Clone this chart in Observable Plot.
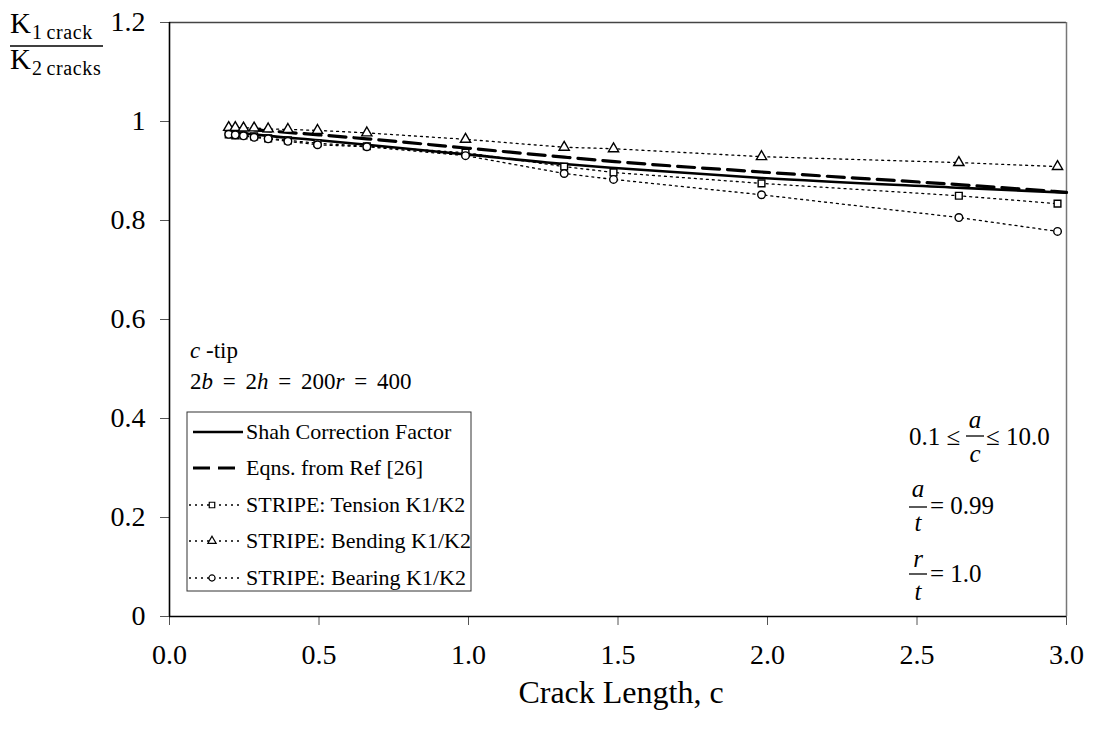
<!DOCTYPE html>
<html>
<head>
<meta charset="utf-8">
<script src="https://cdn.jsdelivr.net/npm/d3@7"></script>
<script src="https://cdn.jsdelivr.net/npm/@observablehq/plot@0.6"></script>
<style>
  html, body { margin: 0; padding: 0; background: #fff; }
  #chart svg { display: block; }
</style>
</head>
<body>
<div id="chart"></div>
<script>
// ---- data ----
const cValues      = [0.198, 0.22, 0.2475, 0.283, 0.33, 0.396, 0.495, 0.66, 0.99, 1.32, 1.485, 1.98, 2.64, 2.97];
const tensionVals  = [0.974, 0.972, 0.972, 0.970, 0.966, 0.962, 0.956, 0.950, 0.937, 0.909, 0.897, 0.875, 0.850, 0.834];
const bendingVals  = [0.988, 0.988, 0.987, 0.987, 0.985, 0.984, 0.982, 0.977, 0.964, 0.948, 0.945, 0.929, 0.917, 0.909];
const bearingVals  = [0.974, 0.973, 0.971, 0.968, 0.965, 0.960, 0.953, 0.949, 0.931, 0.895, 0.883, 0.852, 0.806, 0.778];
const shahC        = [0.2, 0.25, 0.33, 0.5, 0.66, 1.0, 1.32, 1.49, 1.98, 2.65, 3.0];
const shahVals     = [0.979, 0.976, 0.971, 0.962, 0.953, 0.933, 0.914, 0.906, 0.886, 0.866, 0.856];
const refC         = [0.2, 0.33, 0.5, 0.66, 1.0, 1.32, 1.49, 1.98, 2.65, 3.0];
const refVals      = [0.987, 0.981, 0.973, 0.965, 0.946, 0.928, 0.919, 0.898, 0.872, 0.857];
const xTicks = [0, 0.5, 1.0, 1.5, 2.0, 2.5, 3.0];
const yTicks = [0, 0.2, 0.4, 0.6, 0.8, 1.0, 1.2];
const legendLabels = ["Shah Correction Factor", "Eqns. from Ref [26]", "STRIPE: Tension K1/K2", "STRIPE: Bending K1/K2", "STRIPE: Bearing K1/K2"];

const tension = cValues.map((c, i) => ({c, v: tensionVals[i]}));
const bending = cValues.map((c, i) => ({c, v: bendingVals[i]}));
const bearing = cValues.map((c, i) => ({c, v: bearingVals[i]}));
const shah = shahC.map((c, i) => ({c, v: shahVals[i]}));
const ref = refC.map((c, i) => ({c, v: refVals[i]}));

const FONT = "'Liberation Serif', 'Times New Roman', serif";
const dotted = {stroke: "black", strokeWidth: 1.3, strokeDasharray: "2,4"};
const dotStyle = {r: 3.8, fill: "white", stroke: "black", strokeWidth: 1.4};

const chart = Plot.plot({
  width: 1095,
  height: 729,
  marginLeft: 169,
  marginRight: 29,
  marginTop: 22,
  marginBottom: 113,
  style: {fontFamily: FONT, fontSize: "28px", background: "white", color: "black"},
  x: {domain: [0, 3], label: null},
  y: {domain: [0, 1.2], label: null},
  marks: [
    Plot.ruleY([1.2], {stroke: "#444", strokeWidth: 1.5}),
    Plot.ruleX([3], {stroke: "#777", strokeWidth: 1.5}),
    Plot.axisX({ticks: xTicks, tickFormat: d3.format(".1f"), tickSize: 9, tickPadding: 19, fontSize: 28, label: null, stroke: "#555"}),
    Plot.axisY({ticks: yTicks, tickFormat: d3.format("~g"), tickSize: 9, tickPadding: 15, fontSize: 28, label: null, stroke: "#555"}),
    Plot.line(tension, {x: "c", y: "v", ...dotted}),
    Plot.line(bending, {x: "c", y: "v", ...dotted}),
    Plot.line(bearing, {x: "c", y: "v", ...dotted}),
    Plot.line(ref, {x: "c", y: "v", stroke: "black", strokeWidth: 3.2, strokeDasharray: "17,8", curve: "monotone-x"}),
    Plot.line(shah, {x: "c", y: "v", stroke: "black", strokeWidth: 2.6, curve: "monotone-x"}),
    Plot.dot(tension, {x: "c", y: "v", symbol: "square", ...dotStyle}),
    Plot.dot(bending, {x: "c", y: "v", symbol: "triangle", ...dotStyle}),
    Plot.dot(bearing, {x: "c", y: "v", symbol: "circle", ...dotStyle}),
    Plot.ruleX([0], {stroke: "black", strokeWidth: 1.6}),
    Plot.ruleY([0], {stroke: "black", strokeWidth: 1.6})
  ]
});
document.getElementById("chart").appendChild(chart);

// ---- annotations / legend ----
const svg = d3.select(chart);
const g = svg.append("g").attr("font-family", FONT).attr("fill", "black").attr("text-anchor", "start");

function txt(x, y, size, parts, anchor = "start") {
  const t = g.append("text").attr("x", x).attr("y", y).attr("font-size", size).attr("text-anchor", anchor);
  parts.forEach(p => {
    const s = t.append("tspan").text(p[0]);
    if (p[1]) s.attr("font-style", "italic");
    if (p[2]) s.attr("dx", p[2]);
  });
  return t;
}
function hline(x1, x2, y, w = 1.3) {
  g.append("line").attr("x1", x1).attr("x2", x2).attr("y1", y).attr("y2", y).attr("stroke", "black").attr("stroke-width", w);
}

// Y label fraction
txt(10, 33, 29, [["K"]]);
txt(32, 39, 20, [["1"], ["crack", false, 4]]).attr("letter-spacing", 0.6);
hline(10, 103, 46, 1.4);
txt(10, 69, 29, [["K"]]);
txt(32, 75, 20, [["2"], ["cracks", false, 4]]).attr("letter-spacing", 0.6);

// X axis title
txt(621, 703, 32, [["Crack Length, c"]], "middle");

// left annotations
txt(190, 358, 23, [["c", true], [" -tip"]]);
txt(190, 389, 23, [["2"], ["b", true], [" = 2"], ["h", true], [" = 200"], ["r", true], [" = 400"]]).attr("word-spacing", 4);

// right annotations
txt(909, 445, 25, [["0.1 ≤"]]);
txt(975, 428, 25, [["a", true]], "middle");
hline(966, 984, 436);
txt(975, 462, 25, [["c", true]], "middle");
txt(986, 445, 25, [["≤ 10.0"]]);

txt(918, 497, 25, [["a", true]], "middle");
hline(909, 927, 507);
txt(918, 531, 25, [["t", true]], "middle");
txt(930, 514, 25, [["= 0.99"]]);

txt(918, 567, 25, [["r", true]], "middle");
hline(909, 927, 574);
txt(918, 600, 25, [["t", true]], "middle");
txt(930, 582, 25, [["= 1.0"]]);

// legend
const lg = g.append("g");
lg.append("rect").attr("x", 187).attr("y", 412).attr("width", 284).attr("height", 179)
  .attr("fill", "white").attr("stroke", "#333").attr("stroke-width", 1);
const rowY = [432, 468, 505, 541, 578];
const symbols = [null, null, d3.symbolSquare, d3.symbolTriangle, d3.symbolCircle];
legendLabels.forEach((label, i) => {
  const y = rowY[i];
  const ln = lg.append("line").attr("x1", i < 2 ? 193 : 189).attr("x2", 243).attr("y1", y).attr("y2", y).attr("stroke", "black");
  if (i === 0) ln.attr("stroke-width", 2.6);
  else if (i === 1) ln.attr("stroke-width", 3.2).attr("stroke-dasharray", "17,8");
  else {
    ln.attr("stroke-width", 1.3).attr("stroke-dasharray", "2,4");
    lg.append("path").attr("d", d3.symbol(symbols[i], 30)())
      .attr("transform", `translate(212,${y})`).attr("fill", "white").attr("stroke", "black").attr("stroke-width", 1.2);
  }
  lg.append("text").attr("x", 246).attr("y", y + 7).attr("font-size", 22).attr("text-anchor", "start").text(label);
});
</script>
</body>
</html>
